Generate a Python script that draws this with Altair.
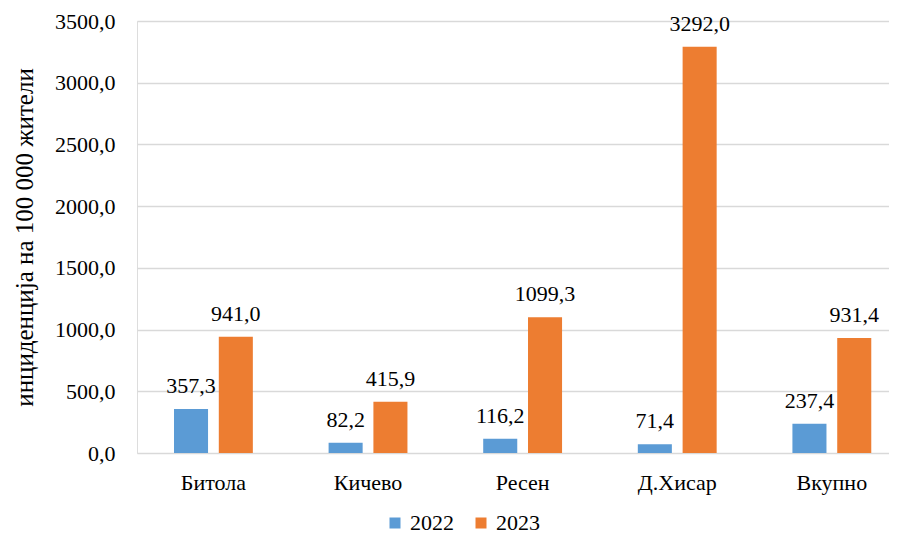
import altair as alt
import pandas as pd

categories = ["Битола", "Кичево", "Ресен", "Д.Хисар", "Вкупно"]
values_2022 = [357.3, 82.2, 116.2, 71.4, 237.4]
values_2023 = [941.0, 415.9, 1099.3, 3292.0, 931.4]
years = ["2022", "2023"]
colors = ["#5B9BD5", "#ED7D31"]

rows = []
for c, v in zip(categories, values_2022):
    rows.append({"cat": c, "year": "2022", "value": v})
for c, v in zip(categories, values_2023):
    rows.append({"cat": c, "year": "2023", "value": v})
df = pd.DataFrame(rows)
df["label"] = df["value"].map(lambda v: f"{v:.1f}".replace(".", ","))

FONT = "Times New Roman, Liberation Serif, DejaVu Serif, serif"

x = alt.X("cat:N", sort=categories, title=None,
          scale=alt.Scale(paddingInner=0.49, paddingOuter=0.177, align=0.676),
          axis=alt.Axis(labelAngle=0, labelFontSize=22, labelFont=FONT,
                        labelColor="#000000", domain=False, ticks=False,
                        labelPadding=19))
xo = alt.XOffset("year:N", sort=years,
                 scale=alt.Scale(paddingInner=0.24, paddingOuter=0))
y = alt.Y("value:Q", title="инциденција на 100 000 жители",
          scale=alt.Scale(domain=[0, 3500], nice=False),
          axis=alt.Axis(values=[0, 500, 1000, 1500, 2000, 2500, 3000, 3500],
                        labelExpr="replace(format(datum.value, '.1f'), '.', ',')",
                        labelFontSize=22, labelFont=FONT, labelColor="#000000",
                        titleFontSize=25, titleFont=FONT, titleFontWeight="normal",
                        titleColor="#000000", titlePadding=17,
                        domain=False, ticks=False, labelPadding=22,
                        gridColor="#d9d9d9", gridWidth=1.5))

base = alt.Chart(df)

bars = base.mark_bar().encode(
    x=x, xOffset=xo, y=y,
    color=alt.Color("year:N", sort=years,
                    scale=alt.Scale(domain=years, range=colors),
                    legend=alt.Legend(title=None, orient="none", direction="horizontal",
                                      legendX=247, legendY=491, padding=0,
                                      symbolType="square", symbolSize=121,
                                      symbolStrokeWidth=0,
                                      labelFontSize=22, labelFont=FONT,
                                      labelColor="#000000", columnPadding=16,
                                      symbolOffset=0, labelOffset=4)),
)

text = base.mark_text(fontSize=22, font=FONT, color="#000000", dy=-23).encode(
    x=x, xOffset=xo, y=y, text="label:N"
)

chart = (bars + text).properties(
    width=752, height=432,
    padding={"left": 129, "top": 13, "right": 0, "bottom": 82},
    autosize=alt.AutoSizeParams(type="none"),
).configure_view(stroke=None).configure(font=FONT)

chart.save("out.html", embed_options={"renderer": "svg", "actions": False})
